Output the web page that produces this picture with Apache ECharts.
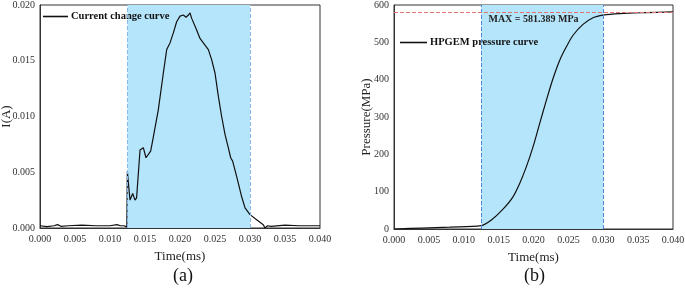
<!DOCTYPE html>
<html lang="en">
<head>
    <meta charset="UTF-8">
    <title>Current and pressure curves</title>
    <style>
        html, body { margin: 0; padding: 0; background: #fff; }
        .container { width: 685px; height: 289px; }
    </style>
    <script src="https://cdn.jsdelivr.net/npm/echarts@6/dist/echarts.min.js"></script>
</head>
<body>
    <div class="container"></div>
    <script>
        // (a) current
        var timeA = [0, 0.001, 0.002, 0.0025, 0.003, 0.004, 0.006, 0.008, 0.010, 0.011, 0.0115, 0.012, 0.0124,
            0.01248, 0.0126, 0.01286, 0.01324, 0.01357, 0.0138, 0.01429, 0.01476, 0.01514, 0.01581, 0.0162,
            0.0169, 0.01762, 0.0181, 0.01857, 0.01905, 0.01952, 0.02, 0.02048, 0.02086, 0.0212, 0.02143, 0.02167,
            0.02229, 0.02286, 0.02357, 0.02405, 0.02452, 0.025, 0.02548, 0.02595, 0.02643, 0.0269, 0.02724,
            0.02752, 0.0281, 0.02881, 0.02929, 0.03, 0.03095, 0.0319, 0.03214, 0.0325, 0.033, 0.035, 0.037, 0.04];
        var currentA = [0.0002, 0.00012, 0.0002, 0.0003, 0.00015, 0.0002, 0.00025, 0.0002, 0.0002, 0.0003, 0.0002, 0.0002, 0.0001,
            0.0051, 0.0042, 0.0025, 0.0031, 0.0025, 0.0027, 0.0070, 0.0072, 0.0063, 0.0069, 0.0082,
            0.0106, 0.0139, 0.0160, 0.0166, 0.0175, 0.0185, 0.0190, 0.0191, 0.0189, 0.0191, 0.0193, 0.0188,
            0.0179, 0.0170, 0.0164, 0.0160, 0.0151, 0.0139, 0.0118, 0.0100, 0.0084, 0.0072, 0.0063,
            0.0060, 0.0046, 0.0028, 0.0018, 0.0012, 0.00074, 0.0003, 0.0, 0.0002, 0.00015, 0.00025, 0.0002, 0.0002];

        // (b) pressure
        var timeB = [0, 0.004, 0.008, 0.0125, 0.01396, 0.01563, 0.01706, 0.01802, 0.01898, 0.01993, 0.02089, 0.02185,
            0.0228, 0.02376, 0.02471, 0.02567, 0.0271, 0.02853, 0.03, 0.03236, 0.036, 0.04];
        var pressureB = [0, 2.5, 5, 9, 24, 53, 86, 122, 167, 220, 283, 345,
            403, 452, 488, 519, 548, 566, 573, 577, 579.5, 581.389];

        var shadeRange = [0.0125, 0.030];
        var maxPressure = 581.389;
        var xTicks = { min: 0, max: 0.04, interval: 0.005 };

        function zip(a, b) { return a.map(function (v, i) { return [v, b[i]]; }); }

        var font = 'Liberation Serif';
        var tickLabel = { fontFamily: font, fontSize: 10, color: '#333', formatter: function (v) { return v.toFixed(3); } };

        function xAxis(idx) {
            return {
                type: 'value', gridIndex: idx, min: xTicks.min, max: xTicks.max, interval: xTicks.interval,
                name: 'Time(ms)', nameLocation: 'middle', nameGap: 22, nameMoveOverlap: false,
                nameTextStyle: { fontFamily: font, fontSize: 13, color: '#222' },
                axisLine: { show: true, onZero: false, lineStyle: { color: '#333' } },
                axisTick: { show: false }, splitLine: { show: false },
                axisLabel: Object.assign({ margin: 6 }, tickLabel)
            };
        }

        var chart = echarts.init(document.querySelector('.container'));
        chart.setOption({
            animation: false,
            backgroundColor: '#fff',
            grid: [
                { left: 40, top: 5, width: 280, height: 223, show: true, borderColor: '#333', borderWidth: 1, outerBoundsMode: 'none' },
                { left: 394, top: 5, width: 279, height: 224, show: true, borderColor: '#333', borderWidth: 1, outerBoundsMode: 'none' }
            ],
            xAxis: [xAxis(0), xAxis(1)],
            yAxis: [
                {
                    type: 'value', gridIndex: 0, min: 0, max: 0.02, interval: 0.005,
                    name: 'I(A)', nameLocation: 'middle', nameGap: 27, nameMoveOverlap: false,
                    nameTextStyle: { fontFamily: font, fontSize: 13, color: '#222' },
                    axisLine: { show: true, lineStyle: { color: '#333' } },
                    axisTick: { show: false }, splitLine: { show: false },
                    axisLabel: Object.assign({ margin: 5 }, tickLabel)
                },
                {
                    type: 'value', gridIndex: 1, min: 0, max: 600, interval: 100,
                    name: 'Pressure(MPa)', nameLocation: 'middle', nameGap: 21, nameMoveOverlap: false,
                    nameTextStyle: { fontFamily: font, fontSize: 13, color: '#222' },
                    axisLine: { show: true, lineStyle: { color: '#333' } },
                    axisTick: { show: false }, splitLine: { show: false },
                    axisLabel: { margin: 5, fontFamily: font, fontSize: 10, color: '#333' }
                }
            ],
            legend: [
                {
                    left: 43, top: 11, icon: 'rect', itemWidth: 25, itemHeight: 1.6, itemGap: 4, padding: 0,
                    data: ['Current change curve'],
                    textStyle: { fontFamily: font, fontSize: 10.5, fontWeight: 'bold', color: '#111', padding: [0, 0, 0, -2] }
                },
                {
                    left: 400, top: 37, icon: 'rect', itemWidth: 27, itemHeight: 1.6, padding: 0,
                    data: ['HPGEM pressure curve'],
                    textStyle: { fontFamily: font, fontSize: 10.5, fontWeight: 'bold', color: '#111', padding: [0, 0, 0, -2] }
                }
            ],
            graphic: [
                { type: 'text', left: 173, top: 267, style: { text: '(a)', font: '18px "Liberation Serif"', fill: '#111' } },
                { type: 'text', left: 524, top: 267, style: { text: '(b)', font: '18px "Liberation Serif"', fill: '#111' } }
            ],
            series: [
                {
                    name: 'Current change curve', type: 'line', xAxisIndex: 0, yAxisIndex: 0,
                    data: zip(timeA, currentA), symbol: 'none',
                    lineStyle: { color: '#111', width: 1.2 }, itemStyle: { color: '#111' },
                    markArea: {
                        silent: true, itemStyle: { color: '#b5e5fb' },
                        data: [[{ xAxis: shadeRange[0] }, { xAxis: shadeRange[1] }]]
                    },
                    markLine: {
                        silent: true, symbol: 'none', precision: 5, label: { show: false },
                        lineStyle: { color: '#86b8ea', type: 'dashed', width: 1 },
                        data: [{ xAxis: shadeRange[0] }, { xAxis: shadeRange[1] }]
                    }
                },
                {
                    name: 'HPGEM pressure curve', type: 'line', xAxisIndex: 1, yAxisIndex: 1,
                    data: zip(timeB, pressureB), symbol: 'none', smooth: 0.3,
                    lineStyle: { color: '#111', width: 1.2 }, itemStyle: { color: '#111' },
                    markArea: {
                        silent: true, itemStyle: { color: '#b5e5fb' },
                        data: [[{ xAxis: shadeRange[0] }, { xAxis: shadeRange[1] }]]
                    },
                    markLine: {
                        silent: true, symbol: 'none', precision: 5,
                        data: [
                            { xAxis: shadeRange[0], label: { show: false }, lineStyle: { color: '#4f86d9', type: 'dashed', width: 1 } },
                            { xAxis: shadeRange[1], label: { show: false }, lineStyle: { color: '#4f86d9', type: 'dashed', width: 1 } },
                            {
                                yAxis: maxPressure,
                                lineStyle: { color: '#e57373', type: 'dashed', width: 1 },
                                label: {
                                    show: true, position: 'insideMiddleBottom', distance: 2,
                                    formatter: 'MAX = ' + maxPressure + ' MPa',
                                    fontFamily: font, fontSize: 10, fontWeight: 'bold', color: '#222'
                                }
                            }
                        ]
                    }
                }
            ]
        });
    </script>
</body>
</html>
